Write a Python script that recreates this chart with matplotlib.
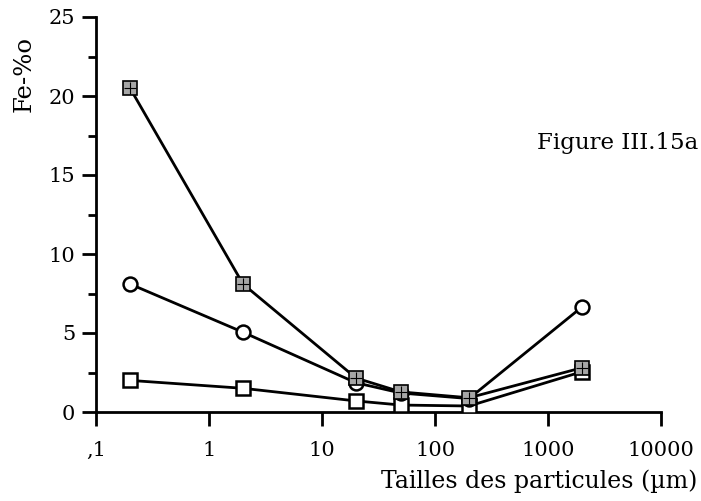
import matplotlib
matplotlib.use("Agg")
import matplotlib.pyplot as plt
from matplotlib.ticker import FixedLocator, NullLocator

sizes = [0.2, 2, 20, 50, 200, 2000]
fe_hatched = [20.5, 8.1, 2.15, 1.27, 0.9, 2.8]
fe_circle = [8.1, 5.05, 1.85, 1.2, 0.85, 6.65]
fe_square = [2.0, 1.5, 0.7, 0.44, 0.38, 2.55]

xticks = [0.1, 1, 10, 100, 1000, 10000]
xticklabels = [",1", "1", "10", "100", "1000", "10000"]
yticks = [0, 5, 10, 15, 20, 25]

plt.rcParams['font.family'] = ['DejaVu Serif']

fig = plt.figure(figsize=(7.01, 5.01), dpi=100)
ax = fig.add_axes([96/701, 89/501, (661-96)/701, (412-17)/501])

ax.plot(sizes, fe_square, color='black', lw=2, marker='s', ms=10,
        mfc='white', mec='black', mew=1.8, zorder=3)
ax.plot(sizes, fe_circle, color='black', lw=2, marker='o', ms=10,
        mfc='white', mec='black', mew=1.8, zorder=3)
ax.plot(sizes, fe_hatched, color='black', lw=2, marker='s', ms=10,
        mfc='0.65', mec='black', mew=1.2, zorder=4)
ax.plot(sizes, fe_hatched, linestyle='none', marker='+', ms=8,
        mec='black', mew=0.8, zorder=5)

ax.set_xscale('log')
ax.set_xlim(0.1, 10000)
ax.set_ylim(0, 25)
ax.xaxis.set_major_locator(FixedLocator(xticks))
ax.set_xticklabels(xticklabels)
ax.xaxis.set_minor_locator(NullLocator())
ax.set_yticks(yticks)
ax.set_yticks([2.5, 7.5, 12.5, 17.5, 22.5], minor=True)

for s in ['top', 'right']:
    ax.spines[s].set_visible(False)
for s in ['left', 'bottom']:
    ax.spines[s].set_linewidth(2)

ax.tick_params(axis='both', which='major', direction='out', length=10,
               width=2, labelsize=15, colors='black')
ax.tick_params(axis='y', which='minor', direction='out', length=6, width=2)
ax.tick_params(axis='x', pad=11)
ax.tick_params(axis='y', pad=5)

fig.text(0.035, 1 - 74/501, "Fe-%o", rotation=90, ha='center', va='center',
         fontsize=17.5)
fig.text(697/701, 1 - 481/501, "Tailles des particules (µm)", ha='right',
         va='center', fontsize=17)
fig.text(698/701, 1 - 143/501, "Figure III.15a", ha='right', va='center',
         fontsize=16.5)

fig.savefig("out.png", dpi=100)
